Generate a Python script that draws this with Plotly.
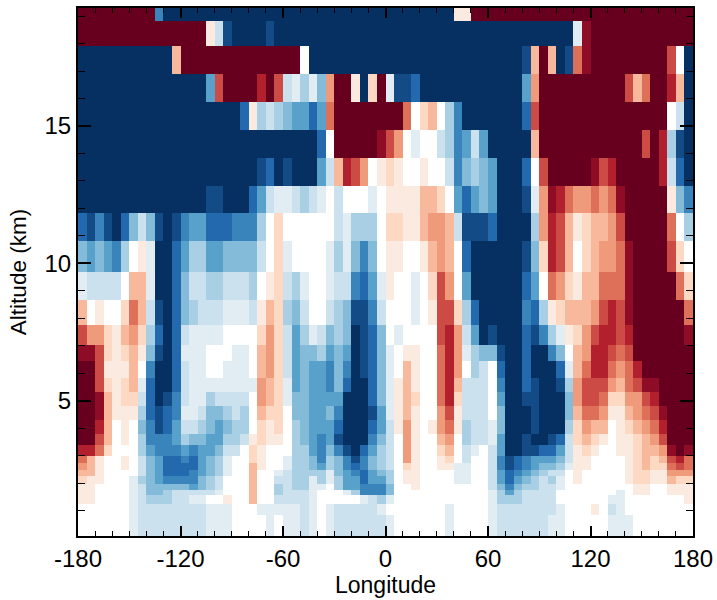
import plotly.graph_objects as go

# Longitude cell edges, 5 degree cells
lon_edges = list(range(-180, 181, 5))
# Altitude cell edges (km), top to bottom
alt_edges = [19.30, 18.83, 17.92, 16.89, 15.87, 14.85, 13.83, 12.82, 11.85, 10.81,
             9.70, 8.67, 7.76, 7.03, 6.45, 5.83, 5.32, 4.81, 4.30, 3.79,
             3.39, 2.99, 2.73, 2.48, 2.26, 1.97, 1.75, 1.57, 1.24, 0.84, 0.08]

# Level key: a (-9, darkest blue) ... i (-1), '.' (0), j (+1) ... r (+9, darkest red)
level_key = "abcdefghi.jklmnopqr"
level_colors = ["#053061", "#134b87", "#2369ad", "#3884bb", "#58a1cb", "#84bbd9", "#a8cfe4", "#cbe1ee", "#e2ecf3",
                "#ffffff",
                "#faeadf", "#fdd8c3", "#f7b89b", "#ef9a7a", "#de7059", "#cc4b45", "#b2202e", "#8e0c25", "#67001f"]

# One string per altitude band (top to bottom), one character per longitude cell
rows = [
    "r"*9 + "d" + "a"*34 + "jj" + "r"*26,
    "r"*15 + "jhb" + "aaaa" + "b" + "a"*35 + "iq" + "r"*12,
    "a"*11 + "l" + "r"*14 + "." + "a"*25 + "blrlabnq" + "r"*9 + "o.a",
    "a"*15 + "eo" + "rrrr" + "prohigifmrrjakribbc" + "a"*12 + "em" + "r"*10 + "olnrrpla",
    "a"*19 + "cjghgfeecen" + "r"*8 + "n.kl.gd" + "a"*7 + "co" + "r"*15 + ".ha",
    "a"*28 + "c." + "r"*5 + "qom.i..hgdehe" + "a"*5 + "l" + "r"*12 + "orpgba",
    "a"*21 + "bcabaaaehlpom.jkj..j..hdfgfeaaac.o" + "r"*5 + "qop" + "r"*5 + "phca",
    "a"*15 + "bbaaacehiihghi.h...i.jjjjllk.ecefeaaabimqpnmmnmnq" + "r"*5 + "jfd",
    "cbdbacfhfbabdeecccdddg.k......higgg.kkjjlmmlhbbbcaaaagmpoljkllmo" + "r"*5 + "n.g",
    "fefedg.jiaaceggeeffffh.ki....igifdf.jj..jlml.c" + "a"*6 + "bfkpol.klmmnq" + "r"*4 + "ok.",
    "ihhhh.lliaacfhhgghhhg.jkhgi..ihhdceij..i.kom.e" + "a"*6 + "ce.nmkjllnnnq" + "r"*5 + "nk",
    "l.j..knlhbacfghhhiiihjlkgfh..hgfbbdh...i.jookgc" + "a"*5 + "dcgjklllmopoq" + "r"*6 + "n",
    "ommkjlmkgcachiiii....kmkhegihfgfabcf.i....opmheabaaacbdgijkmoppop" + "r"*6 + "q",
    "qqokjkljfbaciii...ii.lmkheffgefeabcfi.jj..npmigffbaacaadf.lmppono" + "r"*7,
    "rrojjjl.daachii..iii.lmkhefeedfdabcfi.lj..npm.gh.caacaaacilnppnmnp" + "r"*6,
    "rrokjklicaach" + "i"*8 + "mlkiefeedfcaacfijlj..nplhhh.daacbaabgmooomlnoqq" + "r"*4,
    "rrqljkkhcabdhiighhhh.mlkiffeeeeaaacfijlk..npkhhh.eaabbaaafmoonkkmmop" + "r"*4,
    "rrqljjjgcbcdiihffghg.lkk.ffeefdaaabeijlj..mojhhh.faaabaaaflnnmjjlmnoqrrr",
    "rrpl.j.fdbcehhgfefgg.kjk.gfeeecaaacehjmj.jmnjghhifaaabaaagkmll.jklmnprrr",
    "rrol.j.gdddegffeegghjkjj.gfedebaaadfh.mj..lm.ghhieaabaabchklkj.jjklmorrr",
    "ppnk...gedddedeefhh.kj...ggedfdbacegh.mj..kl.hi.heaabbccehjkj..jjkllmqrq",
    "nlj..j.hfeccdcefgi..kj..iggfdgfdbdfgh.mj..jk.h..hdbcdeeefhjj....jklklopn",
    "mlj..j.hfeccccefgi..lj..iggfegfdcdfgh.kj..jjii..hdbcdeffgijj....jklkknon",
    "llj....hfecccdefgi..l..ihggggifedcefg.jj....ii..hecdefghh.j.....jkkjjmmm",
    "kjj...igfeddddfgh...l..hhggigigeeceeg.jj....ii..hecefghgi.j.....jkkjjlkk",
    "jj....ihfffffefgh...l..ghggii.geedddf..j" + "."*8 + "hfdfgghhi" + "."*8 + "jj..jjj",
    "jj....ihffghhhhhi...l..ghhhi...igdddf" + "."*11 + "igeghhhh" + "."*7 + "i.jj..jjj",
    "jj....ihggghhii..j..l..hhhhi.....ihgi" + "."*11 + "iggghhhh" + "."*6 + "ii" + "."*7 + "j",
    "......i" + "h"*8 + "iii...iiiiihi.ihhhhhi" + "."*7 + "i...." + "i" + "h"*7 + "i...j.hi" + "."*8,
    "......i" + "h"*8 + "iii....i.iihi.i" + "h"*6 + "i" + "."*6 + "i...." + "i" + "h"*6 + "ii" + "."*5 + "iii" + "."*7,
]
for idx, row in enumerate(rows):
    assert len(row) == 72, (idx, len(row))

# Level number for every cell, bottom row first for an upward altitude axis
level_values = [[level_key.index(c) - 9 for c in row] for row in rows][::-1]
alt_ascending = alt_edges[::-1]

n = len(level_colors)
colorscale = []
for k, col in enumerate(level_colors):
    colorscale.append([k / n, col])
    colorscale.append([(k + 1) / n, col])

fig = go.Figure(go.Heatmap(
    x=lon_edges, y=alt_ascending, z=level_values,
    zmin=-9.5, zmax=9.5, colorscale=colorscale, showscale=False, hoverongaps=False,
))

FONT = "Liberation Sans, Arial, Helvetica, sans-serif"
fig.update_layout(
    width=717, height=600,
    margin=dict(l=78, r=24, t=8, b=64),
    plot_bgcolor="white", paper_bgcolor="white",
    font=dict(family=FONT, color="black", size=24),
    xaxis=dict(
        range=[-180, 180], tickmode="array", tickvals=[-180, -120, -60, 0, 60, 120, 180],
        ticktext=["-180", "-120", "-60", "0", "60", "120", "180"],
        ticks="inside", ticklen=10, tickwidth=2, tickcolor="black",
        minor=dict(ticks="inside", ticklen=5, tickwidth=1.3, tickcolor="black", dtick=10, tick0=-180),
        showline=True, linewidth=2, linecolor="black", mirror="allticks",
        showgrid=False, zeroline=False, automargin=False,
        title=dict(text="Longitude", font=dict(size=23), standoff=5),
    ),
    yaxis=dict(
        range=[0.07, 19.3], tickmode="array", tickvals=[5, 10, 15],
        ticks="inside", ticklen=13, tickwidth=2, tickcolor="black",
        minor=dict(ticks="inside", ticklen=7, tickwidth=1.3, tickcolor="black", dtick=1, tick0=0),
        showline=True, linewidth=2, linecolor="black", mirror="allticks",
        showgrid=False, zeroline=False, automargin=False,
        title=dict(text="Altitude (km)", font=dict(size=22.5), standoff=12),
    ),
)
fig.write_html(
    "out.html",
    config={"displayModeBar": False},
    post_script="document.body.style.margin='0';document.documentElement.style.overflow='hidden';",
)
